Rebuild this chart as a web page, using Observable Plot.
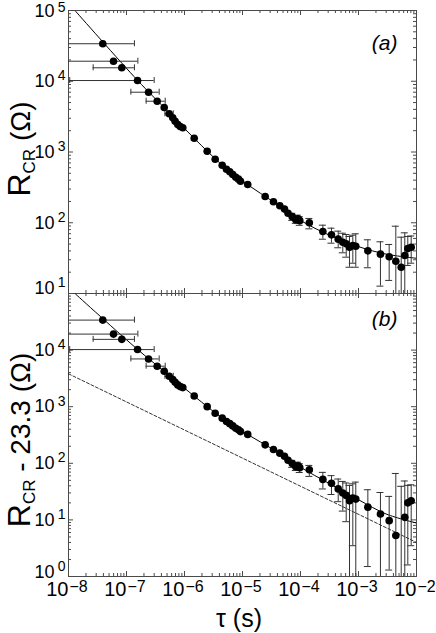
<!DOCTYPE html>
<html><head><meta charset="utf-8">
<script src="https://cdn.jsdelivr.net/npm/d3@7"></script>
<script src="https://cdn.jsdelivr.net/npm/@observablehq/plot@0.6"></script>
<style>
body{margin:0;background:#fff;}
#chart svg{display:block;overflow:visible;background:transparent;}
</style></head><body><div id="chart"></div>
<script>
// ---------- data ----------
const tau = [3.9e-8, 5.97e-8, 8.3e-8, 1.55e-7, 2.4e-7, 3.38e-7, 4.47e-7, 5.45e-7, 6.28e-7, 6.9e-7,
  7.66e-7, 8.43e-7, 9.35e-7, 1.47e-6, 2.46e-6, 3.38e-6, 4.47e-6, 5.3e-6, 6.04e-6, 6.8e-6,
  7.66e-6, 8.53e-6, 9.24e-6, 1.23e-5, 2.46e-5, 3.42e-5, 4.4e-5, 5.3e-5, 6.1e-5, 7.2e-5,
  8.3e-5, 9.0e-5, 9.7e-5, 1.42e-4, 2.43e-4, 3.42e-4, 4.47e-4, 5.36e-4, 6.14e-4, 7.0e-4,
  7.98e-4, 8.98e-4, 1.45e-3, 2.39e-3, 3.38e-3, 4.4e-3, 5.45e-3, 6.28e-3, 7.08e-3, 8.1e-3];
const tauLo = [5e-9, 5e-9, 2.66e-8, 1.05e-8, 1.19e-7, 2.18e-7, null, 4.6e-7, null, null,
  null, null, null, null, null, null, null, null, null, null,
  null, null, null, null, null, null, null, null, null, null,
  null, null, null, null, null, null, null, null, null, null,
  null, null, null, null, null, null, null, null, null, null];
const tauHi = [1.37e-7, 1.57e-7, 1.37e-7, 3.0e-7, 3.66e-7, 4.65e-7, null, 6.4e-7, null, null,
  null, null, null, null, null, null, null, null, null, null,
  null, null, null, null, null, null, null, null, null, null,
  null, null, null, null, null, null, null, null, null, null,
  null, null, null, null, null, null, null, null, null, null];
// panel (a): R_CR
const rA = [33900, 19200, 15500, 10240, 7000, 5220, 4260, 3470, 3040, 2720,
  2450, 2290, 2200, 1567, 1026, 791, 650, 571, 525, 481,
  440, 413, 386, 347, 235, 198, 174, 156, 136, 122,
  110, 114, 107, 100, 75.2, 67.5, 58.6, 53.1, 50.4, 45.1,
  47.7, 46.6, 40.1, 36.0, 33.0, 28.6, 23.5, 34.4, 43.3, 45.1];
const rALo = [null, null, null, null, null, null, null, null, null, null,
  null, null, null, null, null, null, null, null, null, null,
  null, null, null, null, null, null, null, null, null, 108,
  98, 100, 92, 82, 58.5, 51.4, 44.3, 37.6, 32.6, 23.5,
  26.8, 23.5, 23.1, 12.7, 15.3, 0.5, 0.5, 0.5, 24.9, 26.8];
const rAHi = [null, null, null, null, null, null, null, null, null, null,
  null, null, null, null, null, null, null, null, null, null,
  null, null, null, null, null, null, null, null, null, 136,
  124, 128, 122, 115, 92.4, 83.8, 76, 71.1, 68.2, 64,
  66.7, 69.8, 57.4, 53.8, 49.3, 89.4, 62.5, 72, 64, 65];
// panel (b): R_CR - 23.3
const rB = [33877, 19177, 15477, 10217, 6977, 5197, 4237, 3447, 3017, 2697,
  2427, 2267, 2177, 1544, 1003, 768, 627, 548, 502, 458,
  417, 390, 363, 324, 212, 175, 151, 133, 113, 98.7,
  86.7, 90.7, 83.7, 76.7, 51.9, 44.2, 35.3, 29.8, 27.1, 21.8,
  24.4, 23.3, 16.8, 12.7, 9.7, 5.3, 0.2, 11.1, 20.0, 21.8];
const rBLo = [null, null, null, null, null, null, null, null, null, null,
  null, null, null, null, null, null, null, null, null, null,
  null, null, null, null, null, null, null, null, null, 84.7,
  74.7, 76.7, 68.7, 58.7, 35.2, 28.1, 21, 14.3, 9.3, 0.2,
  3.5, 0.2, 1.5, 0.01, 1.3, 0.01, 0.01, 0.01, 1.6, 3.5];
const rBHi = [null, null, null, null, null, null, null, null, null, null,
  null, null, null, null, null, null, null, null, null, null,
  null, null, null, null, null, null, null, null, null, 112.7,
  100.7, 104.7, 98.7, 91.7, 69.1, 60.5, 52.7, 47.8, 44.9, 40.7,
  43.4, 46.5, 34.1, 30.5, 26, 66.1, 39.2, 48.7, 40.7, 41.7];
// fit curves
const fitTau = [1.32e-8, 1.55e-7, 4.5e-7, 1.47e-6, 4.5e-6, 1.23e-5, 3.4e-5, 1e-4, 3e-4, 1e-3, 3e-3, 1e-2];
const fitA = [98000, 10300, 4200, 1560, 650, 345, 198, 108, 68, 46, 36, 31.5];
const fitB = [98000, 10280, 4180, 1537, 627, 322, 175, 85, 45, 22.7, 12.7, 8.8];
// dashed power law (panel b)
const dashTau = [1e-8, 1e-2];
const dashB = [3810, 4.0];
// axis ticks
const xMajor = [1e-8, 1e-7, 1e-6, 1e-5, 1e-4, 1e-3, 1e-2];
const yMajorA = [1e1, 1e2, 1e3, 1e4, 1e5];
const yMajorB = [1e0, 1e1, 1e2, 1e3, 1e4, 1e5];
const minorMult = [2, 3, 4, 5, 6, 7, 8, 9];
const expLabel = {"-8": "−8", "-7": "−7", "-6": "−6", "-5": "−5", "-4": "−4", "-3": "−3", "-2": "−2"};

// ---------- drawing ----------
const FONT = "'Liberation Sans', Arial, Helvetica, sans-serif";
const AX = "#4a4a4a", EB = "#333";
const W = 436, ML = 68, MR = 20, PH = 283, PW = W - ML - MR;
const minors = (maj) => maj.slice(0, -1).flatMap(d => minorMult.map(m => d * m));
const exp = d => { const e = String(Math.round(Math.log10(d))); return expLabel[e] || e; };

function table(rs, lo, hi) {
  return tau.map((t, i) => ({t, r: rs[i], lo: lo[i], hi: hi[i], tl: tauLo[i], th: tauHi[i]}));
}
function frameTicks(yMaj) {
  const s = {stroke: AX, strokeWidth: 1};
  const xMin = minors(xMajor), yMin = minors(yMaj);
  return [
    Plot.tickX(xMajor, {x: d => d, ...s, insetTop: PH - 5}),
    Plot.tickX(xMajor, {x: d => d, ...s, insetBottom: PH - 5}),
    Plot.tickX(xMin, {x: d => d, ...s, insetTop: PH - 3}),
    Plot.tickX(xMin, {x: d => d, ...s, insetBottom: PH - 3}),
    Plot.tickY(yMaj, {y: d => d, ...s, insetRight: PW - 5}),
    Plot.tickY(yMaj, {y: d => d, ...s, insetLeft: PW - 5}),
    Plot.tickY(yMin, {y: d => d, ...s, insetRight: PW - 3}),
    Plot.tickY(yMin, {y: d => d, ...s, insetLeft: PW - 3}),
    Plot.frame({stroke: AX, strokeWidth: 1})
  ];
}
function dataMarks(data) {
  const v = data.filter(d => d.lo != null), h = data.filter(d => d.tl != null);
  return [
    Plot.ruleX(v, {x: "t", y1: "lo", y2: "hi", stroke: EB, strokeWidth: 1, clip: true}),
    Plot.ruleY(v, {y: "lo", x1: "t", x2: "t", insetLeft: -3.5, insetRight: -3.5, stroke: EB, clip: true}),
    Plot.ruleY(v, {y: "hi", x1: "t", x2: "t", insetLeft: -3.5, insetRight: -3.5, stroke: EB, clip: true}),
    Plot.ruleY(h, {y: "r", x1: "tl", x2: "th", stroke: EB, strokeWidth: 1, clip: true}),
    Plot.ruleX(h, {x: "tl", y1: "r", y2: "r", insetTop: -3, insetBottom: -3, stroke: EB, clip: true}),
    Plot.ruleX(h, {x: "th", y1: "r", y2: "r", insetTop: -3, insetBottom: -3, stroke: EB, clip: true}),
    Plot.dot(data, {x: "t", y: "r", r: 3.8, fill: "black", stroke: "none", clip: true})
  ];
}
function yLabels(yMaj, shift = 0, raise = 5.5) {
  return [
    Plot.text(yMaj, {y: d => d, frameAnchor: "left", text: () => "10", textAnchor: "end", lineAnchor: "middle", dx: -14, dy: shift, fontSize: 18, fill: "black"}),
    Plot.text(yMaj, {y: d => d, frameAnchor: "left", text: exp, textAnchor: "end", lineAnchor: "middle", dx: -3, dy: shift - raise, fontSize: 14, fill: "black"})
  ];
}
const common = {
  width: W, marginLeft: ML, marginRight: MR,
  x: {type: "log", domain: [1e-8, 1e-2], axis: null},
  style: {background: "transparent", overflow: "visible", fontFamily: FONT}
};

const dA = table(rA, rALo, rAHi);
const chartA = Plot.plot({
  ...common, height: 293, marginTop: 10, marginBottom: 0,
  y: {type: "log", domain: [1e1, 1e5], axis: null},
  marks: [
    ...frameTicks(yMajorA),
    Plot.line(fitTau.map((t, i) => ({t, r: fitA[i]})), {x: "t", y: "r", curve: "catmull-rom", stroke: "black", strokeWidth: 1, clip: true}),
    ...dataMarks(dA),
    ...yLabels(yMajorA.slice(1, -1)),
    ...yLabels(yMajorA.slice(-1), 0.5, 3),
    ...yLabels(yMajorA.slice(0, 1), -5),
    Plot.text(["(a)"], {frameAnchor: "top-right", text: d => d, dx: -19, dy: 33, lineAnchor: "middle", fontSize: 21, fontStyle: "italic", textAnchor: "end", fill: "black"})
  ]
});

const dB = table(rB, rBLo, rBHi);
const chartB = Plot.plot({
  ...common, height: 340, marginTop: 0, marginBottom: 57,
  y: {type: "log", domain: [1e0, 1e5], axis: null},
  marks: [
    ...frameTicks(yMajorB),
    Plot.line(dashTau.map((t, i) => ({t, r: dashB[i]})), {x: "t", y: "r", stroke: "black", strokeWidth: 0.8, strokeDasharray: "3,2", clip: true}),
    Plot.line(fitTau.map((t, i) => ({t, r: fitB[i]})), {x: "t", y: "r", curve: "catmull-rom", stroke: "black", strokeWidth: 1, clip: true}),
    ...dataMarks(dB),
    ...yLabels(yMajorB.slice(1, -1)),
    ...yLabels(yMajorB.slice(0, 1), -4.5),
    Plot.text(xMajor, {x: d => d, frameAnchor: "bottom", text: () => "10", textAnchor: "end", lineAnchor: "middle", dy: 13.5, fontSize: 20, fill: "black"}),
    Plot.text(xMajor, {x: d => d, frameAnchor: "bottom", text: exp, textAnchor: "start", lineAnchor: "middle", dx: 1, dy: 10, fontSize: 16, fill: "black"}),
    Plot.text(["(b)"], {frameAnchor: "top-right", text: d => d, dx: -19, dy: 26, lineAnchor: "middle", fontSize: 21, fontStyle: "italic", textAnchor: "end", fill: "black"})
  ]
});

function yTitle(svg, x, y, rest) {
  const t = d3.select(svg).append("text")
    .attr("transform", `translate(${x},${y}) rotate(-90)`)
    .attr("text-anchor", "middle").attr("font-family", FONT)
    .attr("font-size", 28).attr("fill", "black");
  t.append("tspan").attr("font-size", 32).text("R");
  t.append("tspan").attr("font-size", 17).attr("dy", 5).text("CR");
  t.append("tspan").attr("dy", -5).text(rest);
}
yTitle(chartA, 30, 149, " (Ω)");
yTitle(chartB, 30, 147, " - 23.3 (Ω)");
d3.select(chartB).append("text")
  .attr("x", 239).attr("y", 334).attr("text-anchor", "middle")
  .attr("font-family", FONT).attr("font-size", 25).attr("fill", "black")
  .text("τ (s)");

document.getElementById("chart").append(chartA, chartB);
</script></body></html>
